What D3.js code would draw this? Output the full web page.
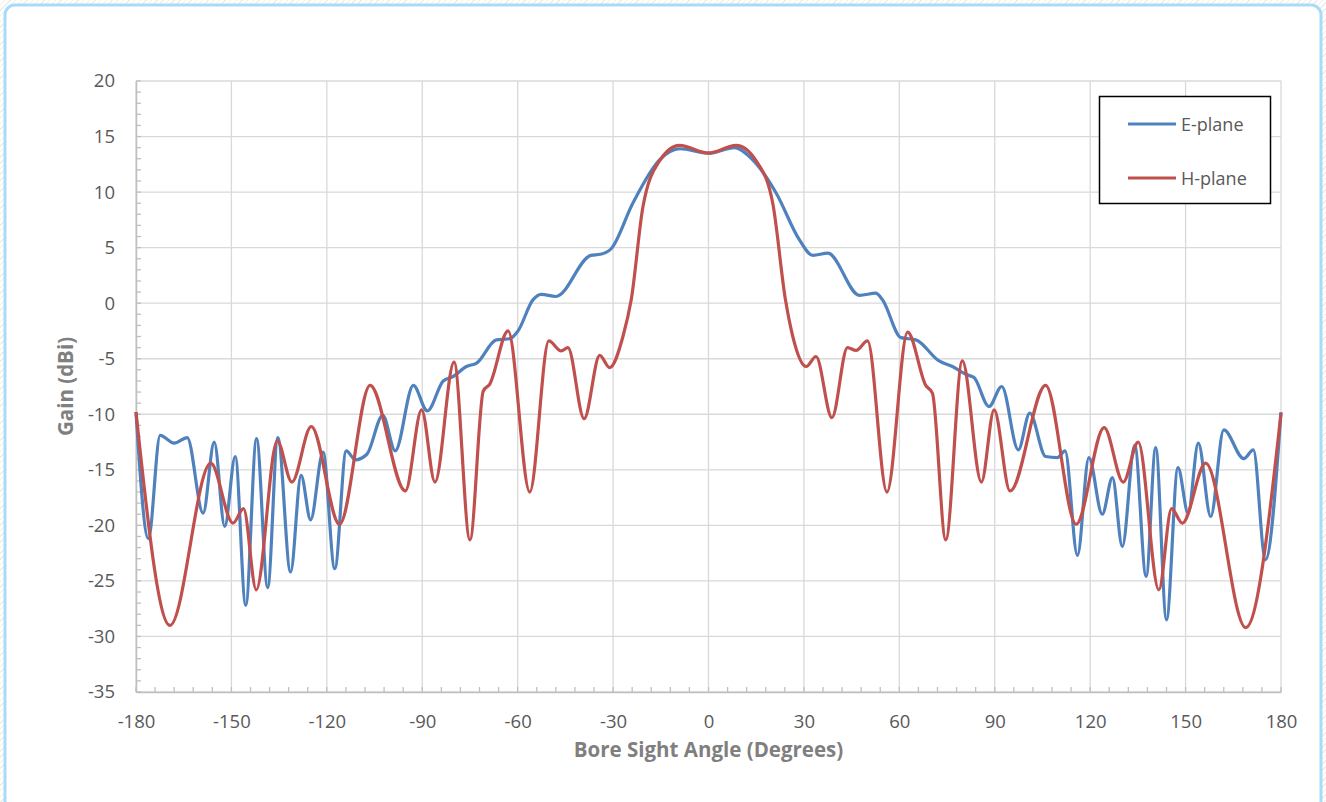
<!doctype html>
<html>
<head>
<meta charset="utf-8">
<title>Gain vs Bore Sight Angle</title>
<script src="https://d3js.org/d3.v7.min.js"></script>
<style>
  html, body {
    margin: 0;
    padding: 0;
  }
  body {
    width: 1326px;
    height: 802px;
    background: repeating-linear-gradient(135deg, #ffffff 0px, #ffffff 3px, #ececec 3px, #ececec 4px);
    font-family: "Open Sans", "Liberation Sans", sans-serif;
    overflow: hidden;
  }
  svg {
    display: block;
  }
  .grid line {
    stroke: #d9d9d9;
    stroke-width: 1.3;
  }
  .tick text {
    fill: #595959;
    font-size: 18.5px;
  }
</style>
</head>
<body>
<script>
  // angles in degrees, gain in dBi
  var eAngle = [-180, -176.1, -172.4, -168.0, -163.9, -158.9, -155.4, -152.1, -148.8, -145.5, -142.1, -138.6,
    -135.4, -131.4, -128.1, -125.1, -121.2, -117.5, -113.9, -111.0, -107.4, -102.4, -98.5, -92.8, -88.4,
    -83.4, -80.3, -76.1, -72.9, -66.7, -62.5, -59.9, -55.2, -52.6, -48.0, -37.0, -34.0, -30.6, -23.8,
    -15.4, -9.0, 0, 8.2, 13.9, 21.3, 28.6, 32.8, 37.5, 47.5, 52.6, 54.7, 60.5, 65.2, 72.5, 76.7, 80.9,
    83.5, 88.2, 92.2, 97.4, 101.0, 106.0, 109.7, 112.1, 116.0, 119.6, 123.8, 127.0, 130.1, 134.0, 137.6,
    140.6, 144.0, 147.6, 150.8, 154.0, 157.9, 162.0, 168.3, 171.3, 175.1, 180];
  var eGain = [-9.8, -21.2, -11.9, -12.6, -12.1, -18.9, -12.5, -20.1, -13.8, -27.2, -12.2, -25.6,
    -12.1, -24.2, -15.5, -19.5, -13.4, -23.9, -13.3, -14.1, -13.6, -10.1, -13.3, -7.4, -9.7,
    -7.0, -6.6, -5.7, -5.4, -3.3, -3.2, -2.5, 0.3, 0.8, 0.6, 4.3, 4.4, 4.9, 9.0,
    12.9, 13.9, 13.5, 14.0, 12.9, 9.9, 5.7, 4.3, 4.5, 0.7, 0.9, 0.3, -3.1, -3.3, -5.2, -5.7, -6.4,
    -6.7, -9.3, -7.5, -13.2, -9.9, -13.8, -13.9, -13.3, -22.7, -13.9, -19.0, -15.7, -21.9, -12.8, -24.6,
    -13.0, -28.5, -14.8, -18.9, -12.6, -19.2, -11.4, -14.0, -13.2, -23.1, -9.8];

  var hAngle = [-180, -169.3, -156.5, -149.5, -146.2, -142.2, -135.6, -131.0, -124.9, -116.0, -106.4,
    -95.3, -90.2, -86.0, -80.0, -75.0, -70.8, -68.8, -63.0, -56.2, -50.2, -46.3, -44.2, -39.1, -34.2,
    -31.1, -26.9, -24.3, -20.6, -15.4, -9.1, 0, 8.7, 15.0, 20.2, 24.2, 26.5, 30.7, 33.8, 38.8, 43.7,
    46.4, 50.0, 56.1, 62.6, 68.3, 70.4, 74.6, 79.8, 85.8, 89.8, 94.8, 106.0, 115.6, 124.4, 130.4,
    135.1, 141.6, 145.6, 149.0, 156.3, 168.9, 180];
  var hGain = [-9.8, -29.0, -14.4, -19.8, -18.5, -25.8, -12.4, -16.1, -11.1, -19.9, -7.4,
    -16.9, -9.6, -16.1, -5.3, -21.3, -7.9, -7.3, -2.5, -17.0, -3.4, -4.3, -4.0, -10.4, -4.7,
    -5.8, -3.0, 0.3, 8.7, 12.8, 14.2, 13.5, 14.2, 12.8, 9.0, 0.3, -3.0, -5.7, -4.8, -10.3, -4.0,
    -4.25, -3.4, -17.0, -2.6, -7.4, -8.1, -21.3, -5.2, -16.1, -9.6, -16.9, -7.4, -19.9, -11.2, -16.1,
    -12.5, -25.8, -18.5, -19.8, -14.4, -29.2, -9.9];

  var seriesNames = ["E-plane", "H-plane"];
  var seriesColors = ["#4f81bd", "#c0504d"];
  var xTicks = d3.range(-180, 181, 30);
  var yTicks = d3.range(-35, 21, 5);

  var W = 1326, H = 802;
  var plot = {left: 136, right: 1281, top: 81, bottom: 692};

  var svg = d3.select("body").append("svg").attr("width", W).attr("height", H);

  // chart card
  svg.append("rect")
    .attr("x", 5).attr("y", 5).attr("width", 1316).attr("height", 810)
    .attr("rx", 10).attr("fill", "#fff")
    .attr("stroke", "#a7dcf8").attr("stroke-width", 3);

  var x = d3.scaleLinear().domain([-180, 180]).range([plot.left, plot.right]);
  var y = d3.scaleLinear().domain([-35, 20]).range([plot.bottom, plot.top]);

  // gridlines
  svg.append("g").attr("class", "grid")
    .selectAll("line").data(xTicks).join("line")
    .attr("x1", d => x(d)).attr("x2", d => x(d))
    .attr("y1", plot.top).attr("y2", plot.bottom);
  svg.append("g").attr("class", "grid")
    .selectAll("line").data(yTicks).join("line")
    .attr("x1", plot.left).attr("x2", plot.right)
    .attr("y1", d => y(d)).attr("y2", d => y(d));

  // minor ticks (inside)
  var minorX = d3.range(-180, 181, 6);
  var minorY = d3.range(-35, 21, 1);
  svg.append("g").selectAll("line").data(minorX).join("line")
    .attr("x1", d => x(d)).attr("x2", d => x(d))
    .attr("y1", plot.bottom).attr("y2", plot.bottom - 5)
    .attr("stroke", "#bfbfbf").attr("stroke-width", 1.3);
  svg.append("g").selectAll("line").data(minorY).join("line")
    .attr("x1", plot.left).attr("x2", plot.left + 5)
    .attr("y1", d => y(d)).attr("y2", d => y(d))
    .attr("stroke", "#bfbfbf").attr("stroke-width", 1.3);

  // axes (plain hyphen for negatives, like the original)
  var fmt = d => String(d);
  var xAxis = d3.axisBottom(x).tickValues(xTicks).tickSize(0).tickPadding(23).tickFormat(fmt);
  var gx = svg.append("g").attr("transform", "translate(0," + plot.bottom + ")").call(xAxis);
  gx.select(".domain").attr("stroke", "#bfbfbf").attr("stroke-width", 1.5);

  var yAxis = d3.axisLeft(y).tickValues(yTicks).tickSize(0).tickPadding(21).tickFormat(fmt);
  var gy = svg.append("g").attr("transform", "translate(" + plot.left + ",0)").call(yAxis);
  gy.select(".domain").attr("stroke", "#bfbfbf").attr("stroke-width", 1.5);

  svg.selectAll(".tick text").style("font-family", "'Open Sans', sans-serif");

  // axis titles
  svg.append("text")
    .attr("x", (plot.left + plot.right) / 2).attr("y", 757)
    .attr("text-anchor", "middle")
    .attr("fill", "#7f7f7f").attr("font-weight", "bold").attr("font-size", 20.5)
    .text("Bore Sight Angle (Degrees)");
  svg.append("text")
    .attr("transform", "translate(73," + ((plot.top + plot.bottom) / 2) + ") rotate(-90)")
    .attr("text-anchor", "middle")
    .attr("fill", "#7f7f7f").attr("font-weight", "bold").attr("font-size", 20.5)
    .text("Gain (dBi)");

  // lines
  var line = d3.line()
    .x(d => x(d[0])).y(d => y(d[1]))
    .curve(d3.curveMonotoneX);

  var series = [d3.zip(eAngle, eGain), d3.zip(hAngle, hGain)];
  svg.append("g").selectAll("path").data(series).join("path")
    .attr("d", line)
    .attr("fill", "none")
    .attr("stroke", (d, i) => seriesColors[i])
    .attr("stroke-width", 3.2)
    .attr("stroke-linejoin", "round");

  // legend
  var lg = svg.append("g");
  lg.append("rect")
    .attr("x", 1099.5).attr("y", 96.5).attr("width", 171).attr("height", 107)
    .attr("fill", "#fff").attr("stroke", "#000").attr("stroke-width", 1.5);
  var items = lg.selectAll("g").data(seriesNames).join("g")
    .attr("transform", (d, i) => "translate(1128," + (124 + i * 54) + ")");
  items.append("line")
    .attr("x1", 0).attr("x2", 48)
    .attr("stroke", (d, i) => seriesColors[i]).attr("stroke-width", 3.2);
  items.append("text")
    .attr("x", 53).attr("y", 6.5)
    .attr("fill", "#595959").attr("font-size", 18)
    .text(d => d);
</script>
</body>
</html>
